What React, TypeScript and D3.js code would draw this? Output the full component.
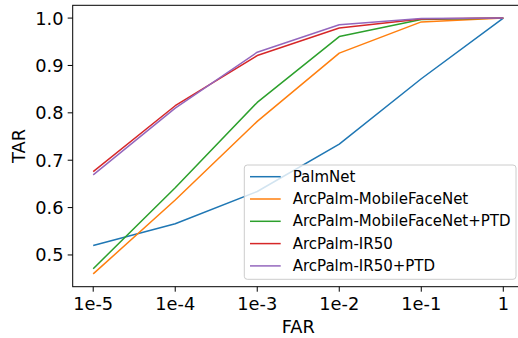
import React, { useRef, useEffect } from "react";
import * as d3 from "d3";

const farLabels = ["1e-5", "1e-4", "1e-3", "1e-2", "1e-1", "1"];
const yTicks = [0.5, 0.6, 0.7, 0.8, 0.9, 1.0];

const seriesNames = [
  "PalmNet",
  "ArcPalm-MobileFaceNet",
  "ArcPalm-MobileFaceNet+PTD",
  "ArcPalm-IR50",
  "ArcPalm-IR50+PTD",
];
const seriesColors = ["#1f77b4", "#ff7f0e", "#2ca02c", "#d62728", "#9467bd"];

const palmNet = [0.52, 0.566, 0.634, 0.734, 0.872, 1.0];
const mobileFaceNet = [0.46, 0.616, 0.782, 0.926, 0.992, 1.0];
const mobileFaceNetPtd = [0.471, 0.642, 0.822, 0.961, 0.997, 1.0];
const ir50 = [0.676, 0.815, 0.921, 0.979, 0.998, 1.0];
const ir50Ptd = [0.669, 0.81, 0.928, 0.986, 0.999, 1.0];

const allSeries = [palmNet, mobileFaceNet, mobileFaceNetPtd, ir50, ir50Ptd];

const App: React.FC = () => {
  const svgRef = useRef<SVGSVGElement | null>(null);

  useEffect(() => {
    const svg = d3.select(svgRef.current);
    svg.selectAll("*").remove();

    const font = "DejaVu Sans, sans-serif";
    const left = 72.7;
    const right = 523.8;
    const top = 5.3;
    const bottom = 286.7;

    // 5% margins like matplotlib
    const x = d3.scaleLinear().domain([-0.25, 5.25]).range([left, right]);
    const y = d3.scaleLinear().domain([0.433, 1.027]).range([bottom, top]);

    const line = d3
      .line<number>()
      .x((_, i) => x(i))
      .y((d) => y(d));

    allSeries.forEach((s, i) => {
      svg
        .append("path")
        .datum(s)
        .attr("fill", "none")
        .attr("stroke", seriesColors[i])
        .attr("stroke-width", 1.5)
        .attr("stroke-linejoin", "round")
        .attr("d", line);
    });

    // spines
    svg
      .append("rect")
      .attr("x", left)
      .attr("y", top)
      .attr("width", right - left)
      .attr("height", bottom - top)
      .attr("fill", "none")
      .attr("stroke", "#000")
      .attr("stroke-width", 1);

    // x axis
    const gx = svg.append("g").attr("font-family", font);
    farLabels.forEach((lab, i) => {
      gx.append("line")
        .attr("x1", x(i))
        .attr("x2", x(i))
        .attr("y1", bottom)
        .attr("y2", bottom + 5)
        .attr("stroke", "#000");
      gx.append("text")
        .attr("x", x(i))
        .attr("y", 310)
        .attr("text-anchor", "middle")
        .attr("font-size", 17.8)
        .text(lab);
    });

    // y axis
    const gy = svg.append("g").attr("font-family", font);
    yTicks.forEach((t) => {
      gy.append("line")
        .attr("x1", left - 5)
        .attr("x2", left)
        .attr("y1", y(t))
        .attr("y2", y(t))
        .attr("stroke", "#000");
      gy.append("text")
        .attr("x", 63.5)
        .attr("y", y(t))
        .attr("text-anchor", "end")
        .attr("dominant-baseline", "central")
        .attr("font-size", 17.8)
        .text(t.toFixed(1));
    });

    svg
      .append("text")
      .attr("x", (left + right) / 2)
      .attr("y", 333)
      .attr("text-anchor", "middle")
      .attr("font-family", font)
      .attr("font-size", 17.8)
      .text("FAR");

    svg
      .append("text")
      .attr("transform", `translate(25,${(top + bottom) / 2}) rotate(-90)`)
      .attr("text-anchor", "middle")
      .attr("font-family", font)
      .attr("font-size", 17.8)
      .text("TAR");

    // legend
    const lg = svg.append("g").attr("font-family", font);
    lg.append("rect")
      .attr("x", 244.3)
      .attr("y", 165)
      .attr("width", 271.7)
      .attr("height", 114.3)
      .attr("rx", 3)
      .attr("fill", "#fff")
      .attr("fill-opacity", 0.8)
      .attr("stroke", "#cccccc")
      .attr("stroke-width", 1);
    seriesNames.forEach((name, i) => {
      const cy = 176.7 + i * 22.3;
      lg.append("line")
        .attr("x1", 250)
        .attr("x2", 280.7)
        .attr("y1", cy)
        .attr("y2", cy)
        .attr("stroke", seriesColors[i])
        .attr("stroke-width", 1.5);
      lg.append("text")
        .attr("x", 292.7)
        .attr("y", cy)
        .attr("dominant-baseline", "central")
        .attr("font-size", 15)
        .text(name);
    });
  }, []);

  return (
    <svg
      ref={svgRef}
      width={518}
      height={338}
      style={{ position: "absolute", left: 0, top: 0, display: "block", background: "#fff" }}
    />
  );
};

export default App;
